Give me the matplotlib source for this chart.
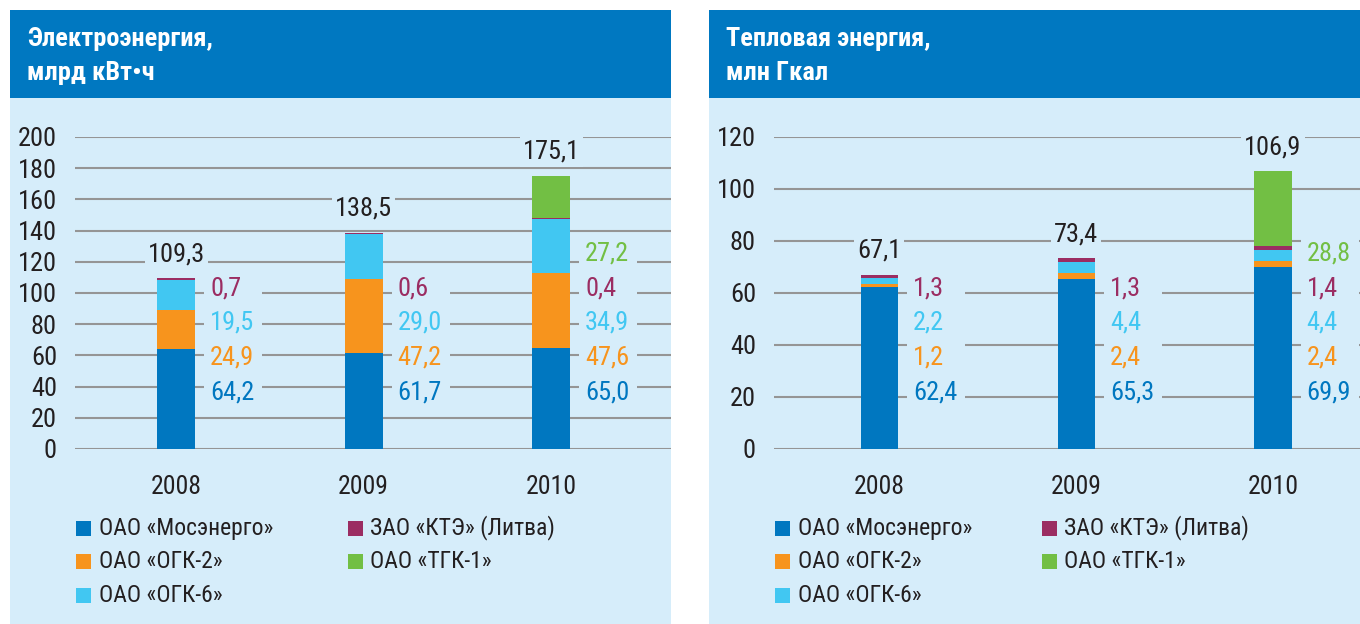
import matplotlib
matplotlib.use("Agg")
import numpy as np
import matplotlib.pyplot as plt
import matplotlib.transforms as mtransforms
from matplotlib.patches import Rectangle
from matplotlib import font_manager

installed = {f.name for f in font_manager.fontManager.ttflist}
candidates = ["Roboto Condensed", "PT Sans Narrow", "Fira Sans Condensed", "Archivo Narrow",
              "IBM Plex Sans Condensed", "Liberation Sans Narrow"]
narrow = [n for n in candidates if n in installed][:1]
plt.rcParams["font.family"] = narrow + ["DejaVu Sans"]

years = ["2008", "2009", "2010"]
series = ["ОАО «Мосэнерго»", "ОАО «ОГК-2»", "ОАО «ОГК-6»", "ЗАО «КТЭ» (Литва)", "ОАО «ТГК-1»"]
colors = ["#0077c0", "#f7941d", "#41c7f2", "#9b2d62", "#72bf44"]

power_mosenergo = [64.2, 61.7, 65.0]
power_ogk2 = [24.9, 47.2, 47.6]
power_ogk6 = [19.5, 29.0, 34.9]
power_kte = [0.7, 0.6, 0.4]
power_tgk1 = [None, None, 27.2]
power_total = [109.3, 138.5, 175.1]

heat_mosenergo = [62.4, 65.3, 69.9]
heat_ogk2 = [1.2, 2.4, 2.4]
heat_ogk6 = [2.2, 4.4, 4.4]
heat_kte = [1.3, 1.3, 1.4]
heat_tgk1 = [None, None, 28.8]
heat_total = [67.1, 73.4, 106.9]

HEADER = "#0078c1"
BG = "#d6edfa"
GRID = "#959595"
INK = "#231f20"
W, H = 1360, 624


def fx(x):
    return x / W


def fy(y):
    return 1 - y / H


def fmt(v):
    return f"{v:.1f}".replace(".", ",")


fig = plt.figure(figsize=(13.6, 6.24), dpi=100)
fig.patch.set_facecolor("white")


def panel(x0, x1, title):
    fig.add_artist(Rectangle((fx(x0), fy(624)), fx(x1 - x0), 526 / H,
                             transform=fig.transFigure, fc=BG, ec="none", zorder=0))
    fig.add_artist(Rectangle((fx(x0), fy(98)), fx(x1 - x0), 88 / H,
                             transform=fig.transFigure, fc=HEADER, ec="none", zorder=0))
    fig.text(fx(x0 + 17), fy(56), title, color="white", fontsize=19, fontweight="bold",
             va="center", ha="left", linespacing=1.55)


def chart(ax, data, totals, ymax, bw, px_per_unit):
    x = np.arange(len(years))
    bottom = np.zeros(len(years))
    for vals, c in zip(data, colors):
        v = np.array([0 if a is None else a for a in vals])
        ax.bar(x, v, bw, bottom=bottom, color=c, zorder=3)
        bottom += v

    ax.set_ylim(0, ymax)
    ax.set_yticks(np.arange(0, ymax + 1, 20))
    ax.set_xticks(x, years)
    ax.grid(True, axis="y", color=GRID, linewidth=1.5, zorder=1)
    ax.set_axisbelow(True)
    for s in ax.spines.values():
        s.set_visible(False)
    ax.tick_params(axis="both", length=0, labelsize=19, colors=INK)
    ax.tick_params(axis="y", pad=13)
    ax.tick_params(axis="x", pad=19, labelsize=18.5)
    ax.patch.set_alpha(0)

    trans = mtransforms.blended_transform_factory(ax.transData, ax.transAxes)
    base, step = 0.18, 0.112
    for i in range(len(years)):
        labels = [(vals[i], c) for vals, c in zip(data, colors) if vals[i] is not None]
        top = base + step * (len(labels) - 1)
        ax.add_patch(Rectangle((i + bw / 2 + 9 / px_per_unit, base - 0.045),
                               58 / px_per_unit, top - base + 0.09,
                               transform=trans, fc=BG, ec="none", zorder=2))
        for k, (v, c) in enumerate(labels):
            ax.annotate(fmt(v), (i + bw / 2, base + step * k), xycoords=trans,
                        xytext=(15, 0), textcoords="offset pixels",
                        ha="left", va="center", fontsize=19, color=c, zorder=4)
        ax.annotate(fmt(totals[i]), (i, bottom[i]), xytext=(0, 24), textcoords="offset pixels",
                    ha="center", va="center", fontsize=19, color=INK, zorder=4,
                    bbox=dict(fc=BG, ec="none", pad=2))


def legend(xcols, xtexts):
    rows = [528, 561, 595]
    slots = [(0, 0), (0, 1), (0, 2), (1, 0), (1, 1)]
    for (col, row), name, c in zip(slots, series, colors):
        fig.add_artist(Rectangle((fx(xcols[col]), fy(rows[row] + 8)), fx(15), 15 / H,
                                 transform=fig.transFigure, fc=c, ec="none"))
        fig.text(fx(xtexts[col]), fy(rows[row]), name, fontsize=17, color=INK,
                 ha="left", va="center")


panel(10, 671, "Электроэнергия,\nмлрд кВт•ч")
panel(709, 1360, "Тепловая энергия,\nмлн Гкал")

ax1 = fig.add_axes([fx(75), 175 / H, fx(671 - 75), 312 / H])
ax1.set_xlim(-0.54, 2.64)
chart(ax1, [power_mosenergo, power_ogk2, power_ogk6, power_kte, power_tgk1],
      power_total, 200, 0.203, 596 / 3.18)

ax2 = fig.add_axes([fx(774), 175 / H, fx(1360 - 774), 312 / H])
ax2.set_xlim(-0.536, 2.442)
chart(ax2, [heat_mosenergo, heat_ogk2, heat_ogk6, heat_kte, heat_tgk1],
      heat_total, 120, 0.19, 586 / 2.978)

legend([76, 348], [99, 370])
legend([775, 1042], [798, 1064])

fig.savefig("out.png", dpi=100)
